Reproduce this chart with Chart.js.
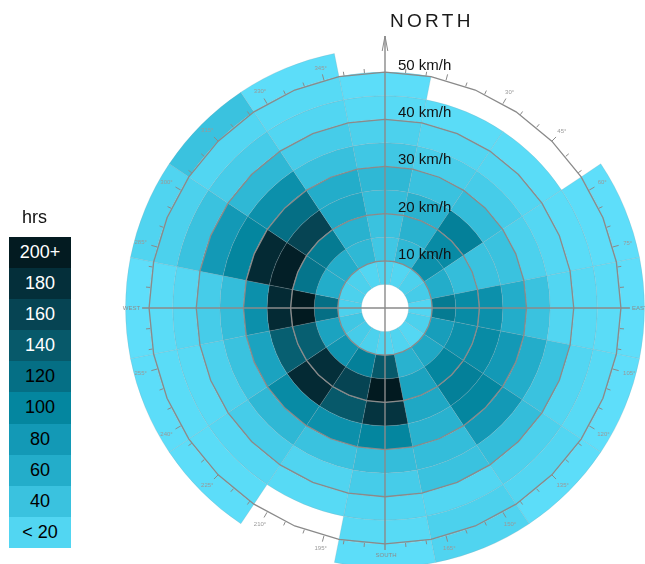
<!DOCTYPE html>
<html>
<head>
<meta charset="utf-8">
<script src="https://cdn.jsdelivr.net/npm/chart.js@4.4.1/dist/chart.umd.min.js"></script>
<style>
  html, body { margin: 0; padding: 0; background: #fff; overflow: hidden; }
  #wrap { position: relative; width: 645px; height: 564px; }
  #rose { position: absolute; left: 0; top: 0; }
  #legend { position: absolute; left: 9px; top: 237px; width: 62px; font-family: Arial, "Liberation Sans", sans-serif; }
  #legend .title { position: absolute; top: -30px; left: 13px; font-size: 18px; color: #111; }
  #legend .row { height: 31.1px; line-height: 31px; text-align: center; font-size: 18px; }
</style>
</head>
<body>
<div id="wrap">
  <canvas id="rose" width="645" height="564"></canvas>
  <div id="legend"></div>
</div>
<script>
// ── Data ──────────────────────────────────────────────────────────────────

// 16 sectors of 22.5°, clockwise from north
const DIRECTIONS = ['N', 'NNE', 'NE', 'ENE', 'E', 'ESE', 'SE', 'SSE',
                    'S', 'SSW', 'SW', 'WSW', 'W', 'WNW', 'NW', 'NNW'];

// speed bins (km/h), lower edge of each ring, inside → outside
const SPEED_LO = [5, 10, 15, 20, 25, 30, 35, 40, 45, 50];
const SPEED_MIN = 5;
const SPEED_MAX = 55;

// hours per speed bin, one list per direction (null = no data)
const HRS_N   = [22, 35, 40, 45, 50, 35, 25, 15, 10, null];
const HRS_NNE = [20, 50, 55, 55, 40, 28, 20, 12, null, null];
const HRS_NE  = [25, 90, 95, 105, 45, 30, 20, 12, null, null];
const HRS_ENE = [30, 60, 45, 40, 40, 25, 18, 12, 10, 8];
const HRS_E   = [20, 110, 95, 90, 60, 40, 20, 15, 12, 8];
const HRS_ESE = [25, 75, 90, 95, 80, 60, 40, 20, 15, 8];
const HRS_SE  = [18, 65, 100, 105, 100, 80, 45, 25, 20, 10];
const HRS_SSE = [22, 55, 70, 65, 55, 45, 40, 20, 25, 22];
const HRS_S   = [20, 140, 210, 175, 100, 45, 30, 20, 15, 10];
const HRS_SSW = [25, 105, 160, 140, 90, 40, 22, 15, null, null];
const HRS_SW  = [30, 85, 180, 185, 95, 50, 30, 18, 12, 10];
const HRS_WSW = [35, 70, 135, 135, 70, 40, 25, 15, 12, 10];
const HRS_W   = [25, 120, 200, 185, 90, 45, 30, 18, 12, 8];
const HRS_WNW = [25, 60, 115, 195, 185, 100, 80, 40, 25, 22];
const HRS_NW  = [25, 60, 110, 160, 120, 90, 50, 30, 20, 40];
const HRS_NNW = [20, 50, 55, 65, 60, 42, 30, 20, 15, 10];

const HOURS = [HRS_N, HRS_NNE, HRS_NE, HRS_ENE, HRS_E, HRS_ESE, HRS_SE, HRS_SSE,
               HRS_S, HRS_SSW, HRS_SW, HRS_WSW, HRS_W, HRS_WNW, HRS_NW, HRS_NNW];

// colour scale (hrs → colour)
const SCALE_HRS = [0, 20, 40, 60, 80, 100, 120, 140, 160, 180, 200];
const SCALE_COLORS = ['#66e4ff', '#52d6f2', '#3ac2df', '#23adca', '#1399b6', '#04869f',
                      '#056f85', '#07596a', '#064453', '#042f3a', '#021a20'];

// legend
const LEGEND_LABELS = ['200+', '180', '160', '140', '120', '100', '80', '60', '40', '< 20'];
const LEGEND_COLORS = ['#031b21', '#042f3a', '#064453', '#07596a', '#056f85',
                       '#04869f', '#1399b6', '#23adca', '#3ac2df', '#52d6f2'];
const LEGEND_TEXT = ['#fff', '#fff', '#fff', '#fff', '#000', '#000', '#000', '#000', '#000', '#000'];

// axis labels
const RING_LABELS = [10, 20, 30, 40, 50];
const DEG_LABELS = [30, 45, 60, 75, 105, 120, 135, 150, 165, 195, 210, 225, 240, 255, 285, 300, 315, 330, 345];

// ── Colour helper ─────────────────────────────────────────────────────────

function hex(c) {
  return [1, 3, 5].map(i => parseInt(c.slice(i, i + 2), 16));
}

function colorFor(v) {
  if (v === null) return 'rgba(0,0,0,0)';
  if (v >= SCALE_HRS[SCALE_HRS.length - 1]) return SCALE_COLORS[SCALE_COLORS.length - 1];
  let i = 0;
  while (v > SCALE_HRS[i + 1]) i++;
  const t = (v - SCALE_HRS[i]) / (SCALE_HRS[i + 1] - SCALE_HRS[i]);
  const a = hex(SCALE_COLORS[i]), b = hex(SCALE_COLORS[i + 1]);
  const m = a.map((x, j) => Math.round(x + (b[j] - x) * t));
  return `rgb(${m[0]},${m[1]},${m[2]})`;
}

// ── Grid / labels plugin ──────────────────────────────────────────────────

const FONT = 'Arial, "Liberation Sans", sans-serif';

const roseGrid = {
  id: 'roseGrid',
  afterDatasetsDraw(chart) {
    const { ctx } = chart;
    const outer = chart.getDatasetMeta(0).data[0];
    const inner = chart.getDatasetMeta(chart.data.datasets.length - 1).data[0];
    const cx = outer.x, cy = outer.y;
    const k = (outer.outerRadius - inner.innerRadius) / (SPEED_MAX - SPEED_MIN);
    const rad = v => inner.innerRadius + (v - SPEED_MIN) * k;
    const pt = (deg, r) => {
      const a = deg * Math.PI / 180;
      return [cx + r * Math.sin(a), cy - r * Math.cos(a)];
    };
    const r50 = rad(50);

    ctx.save();

    // rings every 10 km/h
    ctx.strokeStyle = '#8a8a8a';
    ctx.lineWidth = 1.3;
    RING_LABELS.forEach(v => {
      ctx.beginPath();
      for (let i = 0; i <= 32; i++) {
        const [x, y] = pt(i * 11.25, rad(v));
        if (i === 0) ctx.moveTo(x, y); else ctx.lineTo(x, y);
      }
      ctx.stroke();
    });

    // cross axes
    ctx.lineWidth = 1.4;
    ctx.beginPath();
    ctx.moveTo(cx, cy - 272);
    ctx.lineTo(cx, cy + r50 + 6);
    ctx.moveTo(cx - r50 - 7, cy);
    ctx.lineTo(cx + r50 + 9, cy);
    ctx.stroke();

    // north arrow
    ctx.lineWidth = 1;
    ctx.beginPath();
    ctx.moveTo(cx - 2.8, cy - 257);
    ctx.lineTo(cx, cy - 272);
    ctx.lineTo(cx + 2.8, cy - 257);
    ctx.stroke();

    // degree ticks every 5°
    ctx.lineWidth = 1;
    for (let d = 0; d < 360; d += 5) {
      if (d % 90 === 0) continue;
      const len = d % 15 === 0 ? 6 : 4;
      const [x0, y0] = pt(d, r50);
      const [x1, y1] = pt(d, r50 + len);
      ctx.beginPath();
      ctx.moveTo(x0, y0);
      ctx.lineTo(x1, y1);
      ctx.stroke();
    }

    // degree labels
    ctx.fillStyle = '#999';
    ctx.font = '6px ' + FONT;
    ctx.textAlign = 'center';
    ctx.textBaseline = 'middle';
    DEG_LABELS.forEach(d => {
      const txt = d + '°';
      const w = ctx.measureText(txt).width;
      const s = Math.abs(Math.sin(d * Math.PI / 180));
      const [x, y] = pt(d, r50 + 11 + (w / 2) * s);
      ctx.fillText(txt, x, y);
    });

    // cardinal labels
    ctx.fillStyle = '#8c8c8c';
    ctx.textAlign = 'right';
    ctx.fillText('WEST', cx - r50 - 9, cy + 0.5);
    ctx.textAlign = 'left';
    ctx.fillText('EAST', cx + r50 + 11, cy + 0.5);
    ctx.textAlign = 'center';
    ctx.fillText('SOUTH', cx + 1, cy + r50 + 11);

    // NORTH
    ctx.fillStyle = '#1a1a1a';
    ctx.font = '19px ' + FONT;
    ctx.textAlign = 'left';
    ctx.textBaseline = 'alphabetic';
    let nx = cx + 5;
    for (const ch of 'NORTH') {
      ctx.fillText(ch, nx, 27);
      nx += ctx.measureText(ch).width + 3.2;
    }

    // ring speed labels
    ctx.fillStyle = '#111';
    ctx.font = '15px ' + FONT;
    RING_LABELS.forEach(v => {
      ctx.fillText(v + ' km/h', cx + 13, cy - rad(v) - 2);
    });

    ctx.restore();
  },
};

// ── Chart ─────────────────────────────────────────────────────────────────

// one doughnut ring per speed bin, outermost first
const datasets = SPEED_LO.map((lo, s) => ({
  label: lo + '–' + (lo + 5) + ' km/h',
  data: DIRECTIONS.map(() => 1),
  backgroundColor: HOURS.map(h => colorFor(h[s])),
  borderColor: 'rgba(140,160,170,0.38)',
  borderWidth: HOURS.map(h => (h[s] === null ? 0 : 0.6)),
  clip: false,
})).reverse();

new Chart(document.getElementById('rose'), {
  type: 'doughnut',
  plugins: [roseGrid],
  data: { labels: DIRECTIONS, datasets },
  options: {
    responsive: false,
    animation: false,
    events: [],
    rotation: -11.25,
    radius: 259.5,
    cutout: '9.09%',
    layout: { padding: { left: 126, right: 1, top: 52, bottom: 0 } },
    plugins: {
      legend: { display: false },
      tooltip: { enabled: false },
    },
  },
});

// ── Legend ────────────────────────────────────────────────────────────────

const legend = document.getElementById('legend');
legend.innerHTML = '<div class="title">hrs</div>' + LEGEND_LABELS.map((l, i) =>
  `<div class="row" style="background:${LEGEND_COLORS[i]};color:${LEGEND_TEXT[i]}">${l}</div>`
).join('');
</script>
</body>
</html>
